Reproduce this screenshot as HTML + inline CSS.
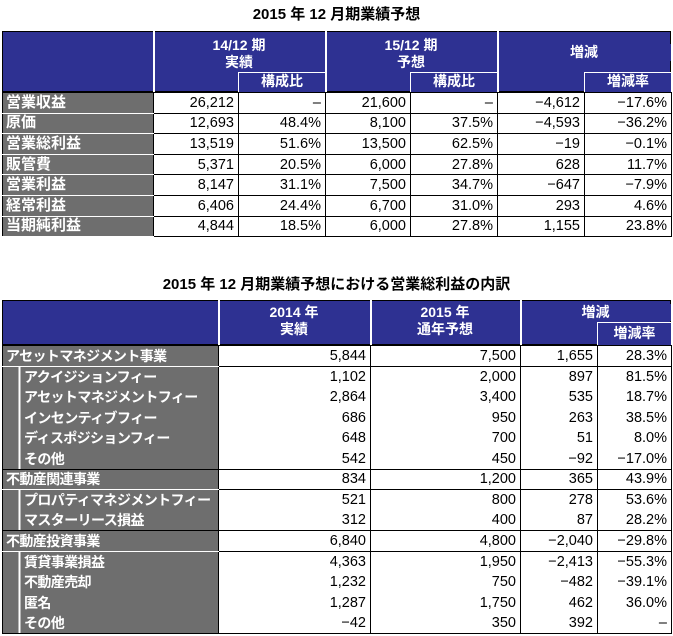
<!DOCTYPE html>
<html><head><meta charset="utf-8"><style>
body{margin:0;width:673px;height:636px;background:#fff;position:relative;overflow:hidden;font-family:"Liberation Sans Narrow","Liberation Sans","Noto Sans CJK JP",sans-serif;}
.a{position:absolute;box-sizing:border-box;}
.t{font-weight:bold;font-size:15px;text-align:center;width:673px;left:0;}
.h{background:#2e3192;color:#fff;font-size:14px;font-weight:bold;text-align:center;line-height:17px;}
.box{border:1.5px solid #fff;border-right:none;border-bottom:none;}
table{position:absolute;border-collapse:collapse;table-layout:fixed;font-size:14.5px;}
td{padding:0 4px;text-align:right;white-space:nowrap;overflow:hidden;line-height:16px;}
.t1 tr{height:20.6px;}
.t1 td{border:1px solid #000;}
.t1 td.l{background:#6e6e6e;color:#fff;text-align:left;border-bottom:1px solid #fff;border-left:1px solid #000;font-weight:bold;font-size:15px;padding-left:3px;}
.t2 tr{height:20.6px;}
.t2 td{border-left:1px solid #000;border-right:1px solid #000;}
.t2 td.l{background:#6e6e6e;color:#fff;text-align:left;font-weight:bold;font-size:14px;letter-spacing:-0.6px;padding-left:3px;}
.t2 td.s{background:linear-gradient(to right,#6e6e6e 15px,#fff 15px,#fff 17px,#6e6e6e 17px);padding-left:21px;}
.t2 tr.g td{border-top:1px solid #000;border-bottom:1px solid #000;}
.t2 tr.g td.l{border-bottom:1.5px solid #fff;}
</style></head><body>
<div class="a t" style="top:3px;">2015 年 12 月期業績予想</div>

<div class="a" style="left:2px;top:31px;width:669px;height:61px;background:#2e3192;border:1px solid #000;"></div>
<div class="a h" style="left:153px;top:37px;width:172px;">14/12 期<br>実績</div>
<div class="a h" style="left:325px;top:37px;width:172px;">15/12 期<br>予想</div>
<div class="a h" style="left:497px;top:44px;width:174px;">増減</div>
<div class="a" style="left:153px;top:31px;width:1.5px;height:61px;background:#fff"></div>
<div class="a" style="left:325px;top:31px;width:1.5px;height:61px;background:#fff"></div>
<div class="a" style="left:497px;top:31px;width:1.5px;height:61px;background:#fff"></div>
<div class="a h box" style="left:238px;top:72px;width:87px;height:20px;">構成比</div>
<div class="a h box" style="left:410px;top:72px;width:87px;height:20px;">構成比</div>
<div class="a h box" style="left:584px;top:72px;width:87px;height:20px;">増減率</div>

<table class="t1" style="left:2px;top:92px;width:669px;">
<col style="width:151px"><col style="width:85px"><col style="width:87px"><col style="width:85px"><col style="width:87px"><col style="width:87px"><col style="width:87px">
<tr><td class="l">営業収益</td><td>26,212</td><td>–</td><td>21,600</td><td>–</td><td>−4,612</td><td>−17.6%</td></tr>
<tr><td class="l">原価</td><td>12,693</td><td>48.4%</td><td>8,100</td><td>37.5%</td><td>−4,593</td><td>−36.2%</td></tr>
<tr><td class="l">営業総利益</td><td>13,519</td><td>51.6%</td><td>13,500</td><td>62.5%</td><td>−19</td><td>−0.1%</td></tr>
<tr><td class="l">販管費</td><td>5,371</td><td>20.5%</td><td>6,000</td><td>27.8%</td><td>628</td><td>11.7%</td></tr>
<tr><td class="l">営業利益</td><td>8,147</td><td>31.1%</td><td>7,500</td><td>34.7%</td><td>−647</td><td>−7.9%</td></tr>
<tr><td class="l">経常利益</td><td>6,406</td><td>24.4%</td><td>6,700</td><td>31.0%</td><td>293</td><td>4.6%</td></tr>
<tr><td class="l">当期純利益</td><td>4,844</td><td>18.5%</td><td>6,000</td><td>27.8%</td><td>1,155</td><td>23.8%</td></tr>
</table>

<div class="a t" style="top:273px;">2015 年 12 月期業績予想における営業総利益の内訳</div>

<div class="a" style="left:2px;top:300px;width:669px;height:45px;background:#2e3192;border:1px solid #000;"></div>
<div class="a h" style="left:218px;top:304px;width:152px;">2014 年<br>実績</div>
<div class="a h" style="left:370px;top:304px;width:150px;">2015 年<br>通年予想</div>
<div class="a h" style="left:520px;top:304px;width:151px;">増減</div>
<div class="a" style="left:218px;top:300px;width:1.5px;height:45px;background:#fff"></div>
<div class="a" style="left:370px;top:300px;width:1.5px;height:45px;background:#fff"></div>
<div class="a" style="left:520px;top:300px;width:1.5px;height:45px;background:#fff"></div>
<div class="a h box" style="left:597px;top:322px;width:74px;height:23px;line-height:21px;">増減率</div>

<table class="t2" style="left:2px;top:345px;width:669px;border-bottom:1px solid #000;">
<col style="width:216px"><col style="width:152px"><col style="width:150px"><col style="width:77px"><col style="width:74px">
<tr class="g"><td class="l">アセットマネジメント事業</td><td>5,844</td><td>7,500</td><td>1,655</td><td>28.3%</td></tr>
<tr><td class="l s">アクイジションフィー</td><td>1,102</td><td>2,000</td><td>897</td><td>81.5%</td></tr>
<tr><td class="l s">アセットマネジメントフィー</td><td>2,864</td><td>3,400</td><td>535</td><td>18.7%</td></tr>
<tr><td class="l s">インセンティブフィー</td><td>686</td><td>950</td><td>263</td><td>38.5%</td></tr>
<tr><td class="l s">ディスポジションフィー</td><td>648</td><td>700</td><td>51</td><td>8.0%</td></tr>
<tr><td class="l s">その他</td><td>542</td><td>450</td><td>−92</td><td>−17.0%</td></tr>
<tr class="g"><td class="l">不動産関連事業</td><td>834</td><td>1,200</td><td>365</td><td>43.9%</td></tr>
<tr><td class="l s">プロパティマネジメントフィー</td><td>521</td><td>800</td><td>278</td><td>53.6%</td></tr>
<tr><td class="l s">マスターリース損益</td><td>312</td><td>400</td><td>87</td><td>28.2%</td></tr>
<tr class="g"><td class="l">不動産投資事業</td><td>6,840</td><td>4,800</td><td>−2,040</td><td>−29.8%</td></tr>
<tr><td class="l s">賃貸事業損益</td><td>4,363</td><td>1,950</td><td>−2,413</td><td>−55.3%</td></tr>
<tr><td class="l s">不動産売却</td><td>1,232</td><td>750</td><td>−482</td><td>−39.1%</td></tr>
<tr><td class="l s">匿名</td><td>1,287</td><td>1,750</td><td>462</td><td>36.0%</td></tr>
<tr><td class="l s">その他</td><td>−42</td><td>350</td><td>392</td><td>–</td></tr>
</table>
</body></html>
